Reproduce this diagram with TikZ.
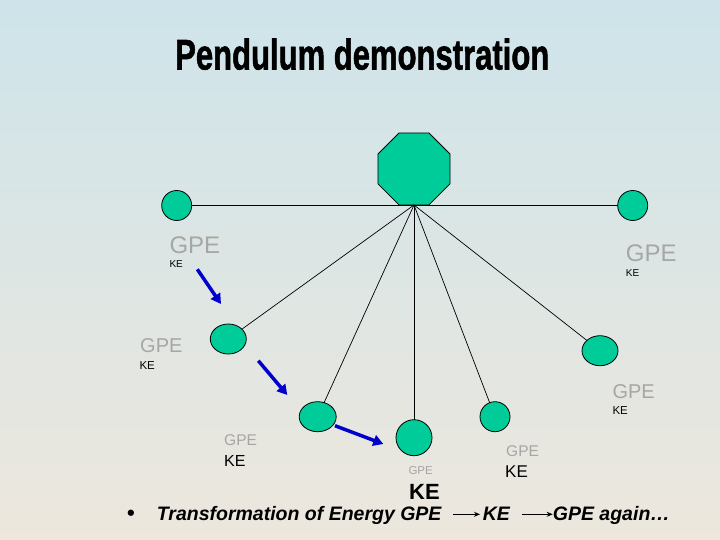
\documentclass[tikz,border=0pt]{standalone}
\usepackage{graphicx}
\usepackage{fontspec}
\setmainfont{Liberation Sans}
\newfontfamily\titlefont[FakeBold=1.5]{Liberation Sans Bold}
\usetikzlibrary{shapes.geometric,arrows.meta}

\definecolor{bobgreen}{RGB}{0,204,153}
\definecolor{gpegray}{RGB}{166,166,166}
\definecolor{swingblue}{RGB}{0,0,204}
\definecolor{bgtop}{RGB}{206,228,234}
\definecolor{bgmid}{RGB}{241,246,242}
\definecolor{bgbot}{RGB}{237,231,221}

\newcommand\sz[1]{\fontsize{#1}{#1}\selectfont}

\begin{document}
\begin{tikzpicture}[x=1pt,y=-1pt,
		bob/.style={ellipse,draw=black,fill=bobgreen,line width=0.8pt,inner sep=0pt,outer sep=0pt},
		gpe/.style={text=gpegray,inner sep=0pt,anchor=base west},
		ke/.style={text=black,inner sep=0pt,anchor=base west},
		rope/.style={draw=black,line width=0.7pt},
		swing/.style={draw=swingblue,line width=3.5pt,-{Triangle[length=10pt,width=11pt]}},
		note/.style={inner sep=0pt,anchor=base west,font=\sz{19.5}\bfseries\itshape},
		textarrow/.style={line width=1pt,-{Stealth[length=6pt,width=5pt]}}]
		\shade[top color=bgtop,middle color=bgmid,bottom color=bgbot] (0,0) rectangle (720,540);
		\useasboundingbox (0,0) rectangle (720,540);
		\node[inner sep=0pt,anchor=base west] (title) at (175,69.5) {\resizebox{374pt}{31pt}{\titlefont Pendulum demonstration}};
		\coordinate (pivot) at (414,205);
		\node[regular polygon,regular polygon sides=8,minimum size=78pt,draw=black,fill=bobgreen,line width=0.8pt,inner sep=0pt,outer sep=0pt,anchor=south] (topbob) at (pivot) {};
		\node[bob,minimum width=30pt,minimum height=30pt] (bobA) at (176.7,205.5) {};
		\node[bob,minimum width=36pt,minimum height=30pt] (bobB) at (228.3,339) {};
		\node[bob,minimum width=37pt,minimum height=30pt] (bobC) at (317.7,416.7) {};
		\node[bob,minimum width=36pt,minimum height=36pt] (bobD) at (414,437.7) {};
		\node[bob,minimum width=30pt,minimum height=30pt] (bobE) at (495,416.7) {};
		\node[bob,minimum width=36pt,minimum height=30pt] (bobF) at (600,350.7) {};
		\node[bob,minimum width=30pt,minimum height=30pt] (bobG) at (632.7,205.5) {};
		\draw[rope] (bobA) -- (bobG);
		\draw[rope] (pivot) -- (bobB);
		\draw[rope] (pivot) -- (bobC);
		\draw[rope] (pivot) -- (bobD);
		\draw[rope] (pivot) -- (bobE);
		\draw[rope] (pivot) -- (bobF);
		\coordinate (sA) at (197.3,269.3);
		\coordinate (sB) at (221,304);
		\coordinate (sC) at (258.3,360.7);
		\coordinate (sD) at (287.3,395);
		\coordinate (sE) at (335,425.7);
		\coordinate (sF) at (383.3,444);
		\draw[swing] (sA) -- (sB);
		\draw[swing] (sC) -- (sD);
		\draw[swing] (sE) -- (sF);
		\node[gpe,font=\sz{24}] (gA) at (169.3,253.3) {GPE};
		\node[ke,font=\sz{10}] (kA) at (169.3,267.7) {KE};
		\node[gpe,font=\sz{24}] (gG) at (625.7,261) {GPE};
		\node[ke,font=\sz{10}] (kG) at (625.7,276) {KE};
		\node[gpe,font=\sz{20}] (gB) at (140,352.7) {GPE};
		\node[ke,font=\sz{11.5}] (kB) at (139.3,369) {KE};
		\node[gpe,font=\sz{20}] (gF) at (612.3,398.3) {GPE};
		\node[ke,font=\sz{11.5}] (kF) at (612.3,414.3) {KE};
		\node[gpe,font=\sz{15.5}] (gC) at (224,445) {GPE};
		\node[ke,font=\sz{16}] (kC) at (224,466) {KE};
		\node[gpe,font=\sz{11.5}] (gD) at (408.3,474.3) {GPE};
		\node[ke,font=\sz{22}\bfseries] (kD) at (409,499) {KE};
		\node[gpe,font=\sz{15.5}] (gE) at (506,456.7) {GPE};
		\node[ke,font=\sz{17}] (kE) at (505,477.7) {KE};
		\node[inner sep=0pt,font=\sz{22}\bfseries] (dot) at (131,515.5) {•};
		\node[note] (tA) at (156.7,520.7) {Transformation of Energy GPE};
		\node[note] (tB) at (482.7,520.7) {KE};
		\node[note] (tC) at (552.7,520.7) {GPE again…};
		\draw[textarrow] ([shift={(11.7,-6.4)}]tA.base east) -- ([shift={(-2.7,-6.4)}]tB.base west);
		\draw[textarrow] ([shift={(11.6,-6.4)}]tB.base east) -- ([shift={(0,-6.4)}]tC.base west);
		\end{tikzpicture}
\end{document}
